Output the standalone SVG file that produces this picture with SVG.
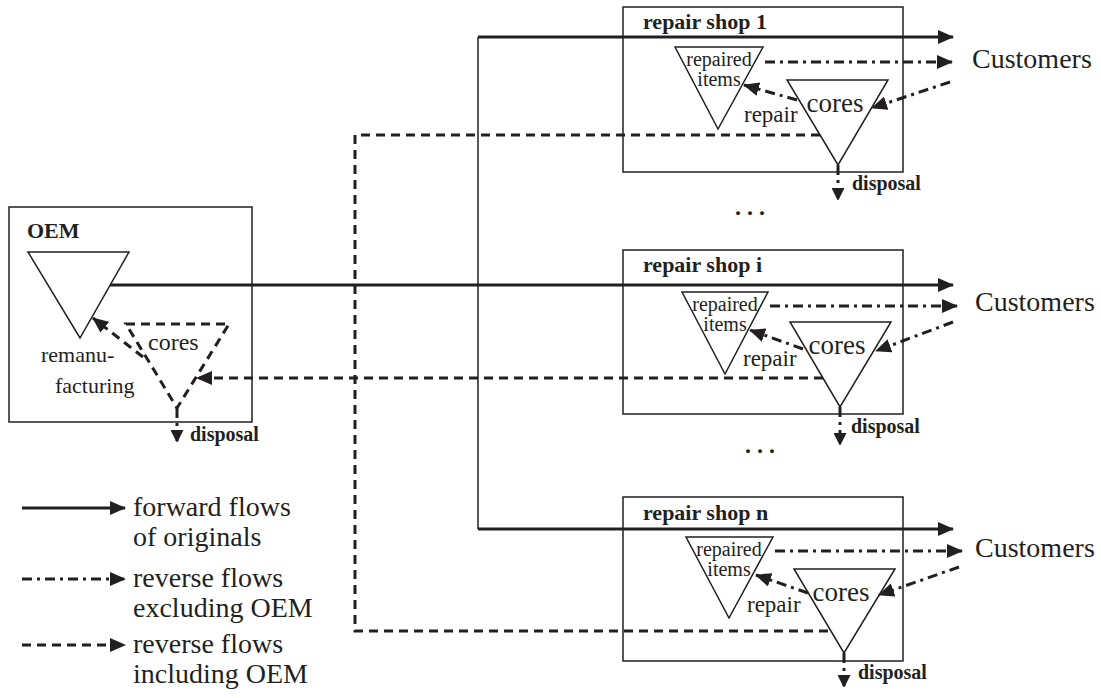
<svg xmlns="http://www.w3.org/2000/svg" width="1101" height="698" viewBox="0 0 1101 698">
<style>
.box{fill:none;stroke:#231f20;stroke-width:1.5}
.tri{fill:none;stroke:#231f20;stroke-width:1.5}
.solid{fill:none;stroke:#231f20;stroke-width:3}
.thin{fill:none;stroke:#231f20;stroke-width:1.5}
.dash{fill:none;stroke:#231f20;stroke-width:3;stroke-dasharray:9 6}
.dashdot{fill:none;stroke:#231f20;stroke-width:3;stroke-dasharray:10 5 3 5}
text{fill:#231f20}
.b{font-weight:bold}
.t22{font-size:22px}
.t20{font-size:20px}
.t19{font-size:20px}
.cust{font-size:28px}
.lg{font-size:28px}
.mid{text-anchor:middle}
</style>
<defs>
<marker id="ah" markerUnits="userSpaceOnUse" markerWidth="16" markerHeight="14" refX="15" refY="7" orient="auto"><path d="M0,0 L16,7 L0,14 Z" fill="#231f20"/></marker>
<marker id="ahs" markerUnits="userSpaceOnUse" markerWidth="12" markerHeight="13" refX="12" refY="6.5" orient="auto"><path d="M0,0 L13,6.5 L0,13 Z" fill="#231f20"/></marker>
</defs>

<g font-family="'Liberation Serif', 'Times New Roman', 'DejaVu Serif', serif">
<g id="oem">
<rect class="box" x="9" y="207" width="243" height="215"/>
<text class="b t22" x="27" y="238">OEM</text>
<polygon class="tri" points="28,252 129,252 80,338"/>
<polygon class="dash" points="126,324 229,324 177,408"/>
<text x="148" y="350" font-size="24">cores</text>
<text class="t22" x="41" y="362">remanu-</text>
<text class="t22" x="55" y="393">facturing</text>
<text class="b t20" x="190" y="441">disposal</text>
</g>

<g id="shop1">
<rect class="box" x="623" y="7" width="280" height="165"/>
<text class="b t22" x="643" y="29">repair shop 1</text>
<polygon class="tri" points="675,47 763,47 718,129"/>
<text class="mid t19" x="719" y="66">repaired</text>
<text class="mid t19" x="719" y="86">items</text>
<polygon class="tri" points="787,80 888,80 838,165"/>
<text class="mid" x="835" y="112" font-size="27">cores</text>
<text x="744" y="122" font-size="23">repair</text>
<text class="b t20" x="852" y="190">disposal</text>
</g>

<g id="shopi">
<rect class="box" x="623" y="250" width="280" height="164"/>
<text class="b t22" x="643" y="272">repair shop i</text>
<polygon class="tri" points="682,292 768,292 725,374"/>
<text class="mid t19" x="725" y="311">repaired</text>
<text class="mid t19" x="725" y="331">items</text>
<polygon class="tri" points="790,322 891,322 840,407"/>
<text class="mid" x="837" y="354" font-size="27">cores</text>
<text x="743" y="366" font-size="23">repair</text>
<text class="b t20" x="851" y="433">disposal</text>
</g>

<g id="shopn">
<rect class="box" x="623" y="497" width="280" height="164"/>
<text class="b t22" x="643" y="520">repair shop n</text>
<polygon class="tri" points="686,537 773,537 729,618"/>
<text class="mid t19" x="729" y="556">repaired</text>
<text class="mid t19" x="729" y="576">items</text>
<polygon class="tri" points="794,569 895,569 844,653"/>
<text class="mid" x="841" y="601" font-size="27">cores</text>
<text x="747" y="612" font-size="23">repair</text>
<text class="b t20" x="858" y="679">disposal</text>
</g>

<g id="customers">
<text class="cust" x="972" y="68">Customers</text>
<text class="cust" x="975" y="311">Customers</text>
<text class="cust" x="975" y="557">Customers</text>
</g>

<g id="ellipses">
<text class="b" x="735" y="215" font-size="24" letter-spacing="6">...</text>
<text class="b" x="745" y="453" font-size="24" letter-spacing="6">...</text>
</g>

<g id="legend-text">
<text class="lg" x="133" y="516">forward flows</text>
<text class="lg" x="133" y="546">of originals</text>
<text class="lg" x="133" y="587">reverse flows</text>
<text class="lg" x="133" y="617">excluding OEM</text>
<text class="lg" x="133" y="653">reverse flows</text>
<text class="lg" x="133" y="683">including OEM</text>
</g>
</g>

<g id="connectors">
<path class="thin" d="M478,37 V529"/>
<path class="solid" d="M478,37 H953" marker-end="url(#ah)"/>
<path class="solid" d="M110,285 H953" marker-end="url(#ah)"/>
<path class="solid" d="M478,529 H953" marker-end="url(#ah)"/>

<path class="dashdot" d="M765,62 H952" marker-end="url(#ah)"/>
<path class="dashdot" d="M950,82 L872,108" marker-end="url(#ah)"/>
<path class="dashdot" d="M797,100 L744,85" marker-end="url(#ah)"/>

<path class="dashdot" d="M770,306 H957" marker-end="url(#ah)"/>
<path class="dashdot" d="M953,322 L876,351" marker-end="url(#ah)"/>
<path class="dashdot" d="M803,349 L750,330" marker-end="url(#ah)"/>

<path class="dashdot" d="M775,551 H962" marker-end="url(#ah)"/>
<path class="dashdot" d="M959,567 L879,595" marker-end="url(#ah)"/>
<path class="dashdot" d="M808,593 L756,575" marker-end="url(#ah)"/>

<path class="dash" d="M820,135 H355 V631 H831"/>
<path class="dash" d="M823,378 H197" marker-end="url(#ah)"/>
<path class="dash" d="M143,357 L93,318" marker-end="url(#ah)"/>

<path class="dashdot" d="M177,408 V442" marker-end="url(#ahs)"/>
<path class="dashdot" d="M838,165 V200" marker-end="url(#ahs)"/>
<path class="dashdot" d="M840,407 V445" marker-end="url(#ahs)"/>
<path class="dashdot" d="M844,653 V687" marker-end="url(#ahs)"/>
</g>

<g id="legend">
<path class="solid" d="M22,508 H125" marker-end="url(#ah)"/>
<path class="dashdot" d="M22,579 H125" marker-end="url(#ah)"/>
<path class="dash" d="M22,645 H125" marker-end="url(#ah)"/>
</g>
</svg>
